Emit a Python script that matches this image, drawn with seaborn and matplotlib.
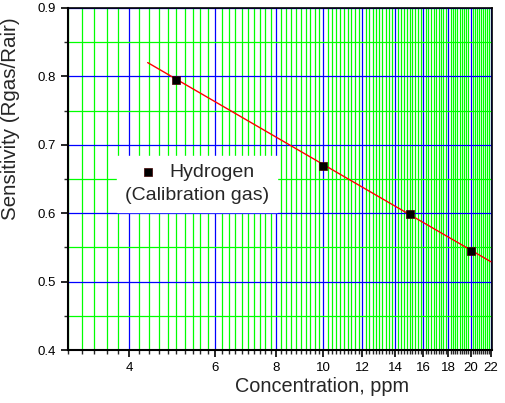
import numpy as np
import pandas as pd
import matplotlib
matplotlib.use("Agg")
import matplotlib.pyplot as plt
from matplotlib.ticker import MultipleLocator, FixedLocator
import seaborn as sns

conc_ppm = [5, 10, 15, 20]
sensitivity = [0.795, 0.669, 0.599, 0.544]

# Fitted line end points
fit_conc = [4.37, 22]
fit_sens = [0.820, 0.529]

x_ticks = [4, 6, 8, 10, 12, 14, 16, 18, 20, 22]

sns.set_style("ticks")
plt.rcParams["font.family"] = ["Liberation Sans", "DejaVu Sans"]

pts = pd.DataFrame({"conc": conc_ppm, "sens": sensitivity})
fit = pd.DataFrame({"conc": fit_conc, "sens": fit_sens})

fig = plt.figure(figsize=(5.06, 4.03), dpi=100)
ax = fig.add_axes([0.134, 0.1315, 0.838, 0.849])

ax.set_xscale("log")
ax.set_xlim(3.0, 22.1)
ax.set_ylim(0.4, 0.9)

# ticks and grid
ax.xaxis.set_major_locator(FixedLocator(x_ticks))
ax.xaxis.set_minor_locator(MultipleLocator(0.2))
ax.xaxis.set_major_formatter(matplotlib.ticker.FormatStrFormatter("%d"))
ax.xaxis.set_minor_formatter(matplotlib.ticker.NullFormatter())
ax.yaxis.set_major_locator(MultipleLocator(0.1))
ax.yaxis.set_minor_locator(MultipleLocator(0.05))
ax.yaxis.set_major_formatter(matplotlib.ticker.FormatStrFormatter("%.1f"))

ax.grid(which="minor", color="#00ff00", linewidth=0.9)
ax.grid(which="major", color="#0000ff", linewidth=0.9)
ax.set_axisbelow(True)

sns.lineplot(data=fit, x="conc", y="sens", color="red", linewidth=1.0, ax=ax, zorder=3)
sns.scatterplot(data=pts, x="conc", y="sens", marker="s", s=36, color="black",
                edgecolor="#400000", linewidth=0.5, ax=ax, zorder=4,
                label="Hydrogen")

ax.tick_params(which="major", direction="out", length=5, width=1.2,
               labelsize=9.5, colors="black", top=False, right=False)
ax.tick_params(which="minor", direction="out", length=3, width=1.0,
               top=False, right=False)
for sp in ax.spines.values():
    sp.set_color("black")
    sp.set_linewidth(1.5)
ax.spines["top"].set_linewidth(1.2)
ax.spines["right"].set_linewidth(1.2)

ax.set_xlabel("Concentration, ppm", fontsize=14.3)
ax.set_ylabel("Sensitivity (Rgas/Rair)", fontsize=14.8)
ax.xaxis.set_label_coords(0.60, -0.078)
ax.yaxis.set_label_coords(-0.113, 0.675)

leg = ax.legend(title="(Calibration gas)", loc="center",
                bbox_to_anchor=(0.305, 0.485), fontsize=14, title_fontsize=14,
                frameon=True, fancybox=False, framealpha=1.0,
                edgecolor="white", facecolor="white", handlelength=0.8,
                handletextpad=0.7, borderpad=0.4, labelspacing=0.3,
                alignment="center")
leg.set_zorder(5)
# put the note line under the entry, as in the original
leg._legend_box._children = leg._legend_box._children[::-1]

fig.savefig("out.png", dpi=100)
